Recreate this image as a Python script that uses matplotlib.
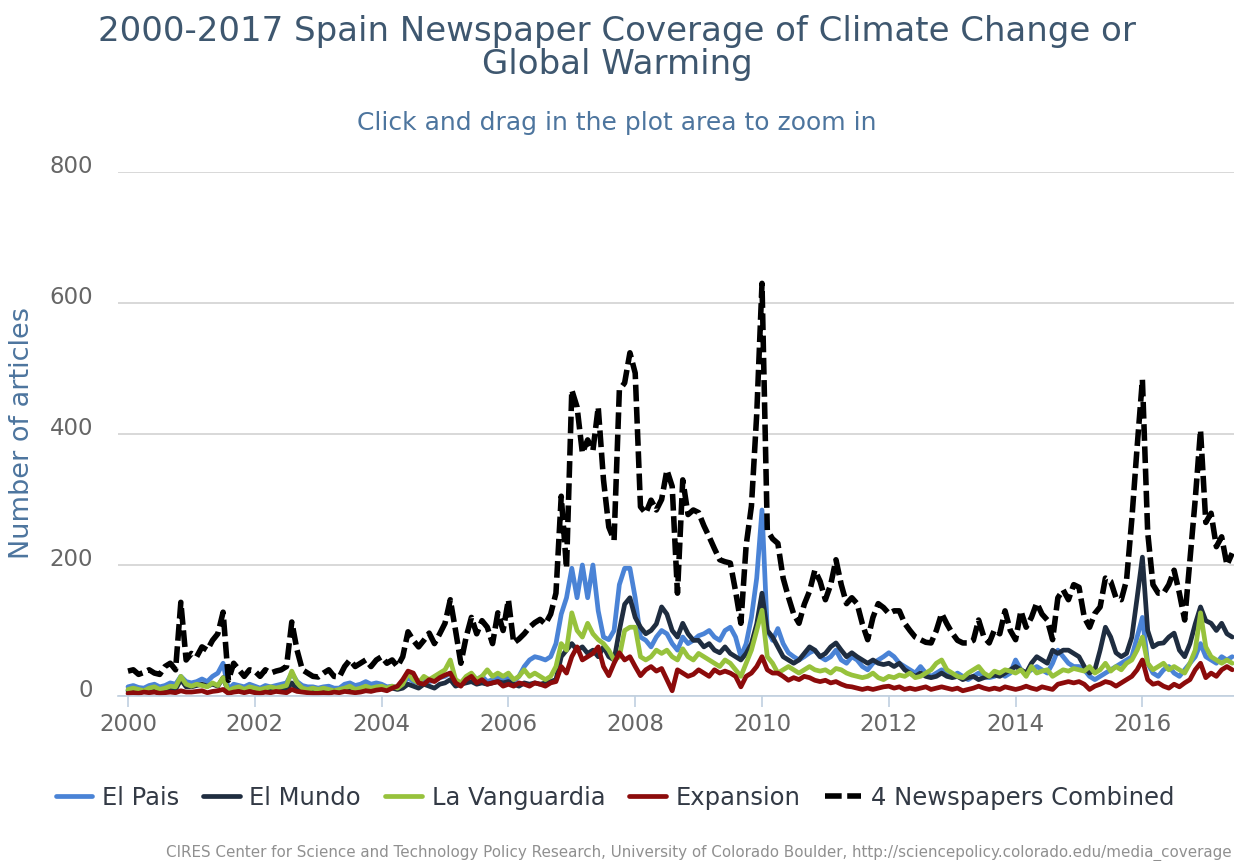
import matplotlib.pyplot as plt
import matplotlib.transforms as mtransforms
import numpy as np

# monthly article counts, Jan 2000 - Jun 2017
el_pais = (
    [14, 16, 13, 12, 16, 18, 14, 16, 20, 18, 30, 22]
    + [20, 22, 26, 22, 30, 35, 50, 10, 18, 16, 14, 18]
    + [15, 12, 16, 14, 16, 18, 20, 35, 22, 16, 14, 14]
    + [12, 14, 15, 12, 12, 18, 20, 16, 18, 22, 18, 20]
    + [18, 14, 15, 12, 18, 28, 22, 20, 25, 22, 24, 28]
    + [30, 35, 25, 18, 28, 32, 25, 30, 22, 25, 28, 25]
    + [28, 22, 30, 45, 55, 60, 58, 55, 60, 80, 125, 150]
    + [195, 150, 200, 150, 200, 130, 90, 86, 100, 170, 195, 195]
    + [150, 90, 85, 75, 90, 100, 95, 80, 70, 90, 80, 85]
    + [92, 95, 100, 90, 85, 100, 105, 90, 60, 80, 120, 180]
    + [284, 100, 85, 103, 80, 66, 60, 55, 60, 66, 70, 60]
    + [55, 60, 70, 55, 50, 60, 55, 45, 40, 50, 55, 60]
    + [66, 60, 50, 45, 40, 35, 45, 35, 30, 35, 40, 35]
    + [30, 35, 30, 25, 30, 35, 30, 28, 30, 35, 30, 35]
    + [55, 40, 35, 40, 45, 40, 35, 50, 70, 60, 50, 45]
    + [45, 40, 30, 25, 30, 35, 40, 45, 50, 55, 60, 90]
    + [120, 50, 35, 30, 40, 45, 35, 30, 40, 50, 60, 80]
    + [60, 55, 50, 60, 55, 60]
)
el_mundo = (
    [8, 10, 7, 8, 10, 8, 7, 10, 12, 10, 25, 14]
    + [14, 16, 18, 15, 18, 15, 28, 7, 10, 10, 8, 10]
    + [8, 7, 8, 10, 8, 10, 10, 20, 10, 8, 8, 7]
    + [7, 8, 7, 8, 7, 10, 8, 7, 10, 10, 8, 12]
    + [12, 10, 12, 10, 12, 18, 15, 12, 18, 15, 12, 18]
    + [20, 25, 15, 18, 20, 22, 18, 20, 18, 20, 22, 20]
    + [22, 18, 15, 20, 18, 20, 18, 20, 22, 25, 60, 70]
    + [80, 70, 75, 65, 70, 60, 75, 60, 55, 100, 140, 150]
    + [120, 105, 95, 100, 110, 136, 125, 100, 90, 111, 95, 85]
    + [85, 75, 80, 70, 66, 75, 65, 60, 55, 65, 80, 110]
    + [157, 100, 90, 75, 60, 55, 50, 55, 65, 75, 70, 60]
    + [65, 75, 81, 70, 60, 66, 60, 55, 50, 55, 50, 48]
    + [50, 45, 50, 40, 35, 30, 35, 30, 28, 30, 35, 30]
    + [28, 30, 25, 28, 30, 25, 28, 30, 32, 30, 35, 40]
    + [45, 40, 35, 50, 60, 55, 50, 70, 65, 70, 70, 65]
    + [60, 45, 35, 40, 70, 105, 90, 66, 60, 65, 90, 150]
    + [212, 100, 75, 80, 81, 90, 96, 70, 60, 80, 110, 136]
    + [115, 111, 100, 111, 95, 90]
)
la_vanguardia = (
    [10, 12, 10, 8, 12, 14, 10, 12, 15, 14, 30, 18]
    + [15, 18, 16, 14, 20, 16, 28, 8, 12, 14, 10, 14]
    + [12, 10, 12, 14, 12, 14, 16, 38, 20, 12, 10, 12]
    + [10, 12, 10, 8, 10, 12, 15, 10, 12, 15, 12, 14]
    + [15, 12, 15, 12, 18, 35, 25, 20, 30, 25, 30, 35]
    + [40, 55, 25, 20, 30, 35, 25, 30, 40, 30, 35, 30]
    + [35, 25, 30, 40, 30, 35, 30, 25, 30, 45, 80, 70]
    + [127, 100, 90, 111, 95, 86, 80, 70, 55, 60, 100, 105]
    + [105, 60, 55, 60, 70, 65, 70, 60, 55, 72, 60, 55]
    + [65, 60, 55, 50, 45, 55, 50, 40, 30, 50, 70, 100]
    + [131, 60, 50, 35, 40, 45, 40, 35, 40, 45, 40, 38]
    + [40, 35, 42, 40, 35, 32, 30, 28, 30, 35, 28, 25]
    + [30, 28, 32, 30, 35, 28, 30, 35, 40, 50, 55, 40]
    + [35, 30, 28, 35, 40, 45, 35, 30, 38, 35, 40, 38]
    + [35, 40, 30, 45, 35, 38, 40, 30, 35, 40, 38, 42]
    + [40, 38, 45, 35, 40, 50, 38, 45, 40, 50, 55, 70]
    + [90, 50, 40, 45, 50, 40, 45, 40, 35, 50, 70, 127]
    + [75, 60, 55, 50, 55, 50]
)
expansion = (
    [4, 5, 4, 6, 5, 6, 4, 5, 6, 5, 8, 6]
    + [6, 7, 8, 5, 7, 8, 10, 4, 6, 7, 5, 7]
    + [5, 4, 6, 5, 7, 6, 5, 10, 7, 6, 5, 4]
    + [4, 5, 4, 6, 5, 7, 6, 5, 6, 8, 7, 9]
    + [10, 8, 12, 15, 25, 38, 35, 20, 18, 25, 22, 28]
    + [32, 35, 20, 15, 25, 30, 20, 25, 18, 20, 22, 15]
    + [18, 15, 20, 18, 15, 20, 18, 15, 20, 22, 45, 35]
    + [60, 75, 55, 60, 65, 75, 45, 31, 50, 66, 55, 60]
    + [45, 31, 40, 45, 38, 42, 25, 8, 40, 35, 30, 33]
    + [40, 35, 30, 40, 35, 38, 35, 30, 14, 30, 35, 45]
    + [60, 40, 35, 35, 30, 24, 28, 25, 30, 28, 24, 22]
    + [24, 20, 22, 18, 15, 14, 12, 10, 12, 10, 12, 14]
    + [15, 12, 14, 10, 12, 10, 12, 14, 10, 12, 14, 12]
    + [10, 12, 8, 10, 12, 15, 12, 10, 12, 10, 14, 12]
    + [10, 12, 15, 12, 10, 14, 12, 10, 18, 20, 22, 20]
    + [22, 18, 10, 15, 18, 22, 20, 15, 20, 25, 30, 40]
    + [55, 25, 18, 20, 15, 12, 18, 14, 20, 25, 40, 50]
    + [28, 35, 30, 40, 45, 40]
)
combined = (
    [38, 40, 33, 36, 40, 35, 33, 45, 50, 40, 143, 55]
    + [65, 60, 75, 70, 85, 95, 128, 24, 50, 40, 30, 40]
    + [38, 30, 40, 35, 38, 40, 45, 113, 70, 40, 35, 30]
    + [29, 35, 40, 30, 29, 45, 55, 45, 50, 55, 45, 55]
    + [60, 50, 55, 45, 60, 98, 85, 75, 85, 96, 80, 95]
    + [111, 147, 100, 50, 90, 120, 95, 115, 105, 80, 127, 100]
    + [147, 81, 87, 95, 105, 112, 117, 110, 125, 157, 305, 195]
    + [467, 441, 371, 391, 375, 441, 330, 258, 238, 467, 478, 524]
    + [493, 289, 279, 299, 284, 300, 345, 320, 157, 330, 277, 284]
    + [280, 260, 243, 225, 208, 205, 203, 160, 111, 230, 290, 430]
    + [630, 253, 240, 233, 180, 151, 125, 111, 140, 160, 192, 175]
    + [147, 170, 208, 170, 141, 150, 141, 110, 86, 120, 141, 135]
    + [126, 130, 130, 111, 100, 90, 86, 82, 81, 100, 126, 110]
    + [96, 85, 81, 81, 85, 116, 90, 81, 101, 95, 130, 100]
    + [86, 130, 105, 120, 142, 125, 116, 86, 150, 162, 147, 170]
    + [166, 120, 105, 126, 136, 180, 175, 150, 147, 177, 270, 380]
    + [483, 250, 170, 157, 157, 170, 192, 157, 116, 208, 300, 406]
    + [265, 279, 228, 243, 200, 218]
)

series_names = ["El Pais", "El Mundo", "La Vanguardia", "Expansion", "4 Newspapers Combined"]
year_ticks = [2000, 2002, 2004, 2006, 2008, 2010, 2012, 2014, 2016]
y_ticks = [0, 200, 400, 600, 800]

months = 2000 + np.arange(len(combined)) / 12.0

fig = plt.figure(figsize=(12.34, 8.61), dpi=100)
ax = fig.add_axes([118 / 1234, 1 - 696 / 861, 1 - 118 / 1234, (696 - 172) / 861])

colors = ["#4a83d6", "#1f2d40", "#97c23c", "#8c0b0b"]
lines = []
for vals, name, c in zip([el_pais, el_mundo, la_vanguardia, expansion], series_names[:4], colors):
    (ln,) = ax.plot(months, vals, color=c, lw=3.4, label=name,
                    solid_joinstyle="round", solid_capstyle="round")
    lines.append(ln)
(ln,) = ax.plot(months, combined, color="black", lw=4.0, ls=(0, (3.0, 1.0)),
                label=series_names[4])
lines.append(ln)

ax.set_xlim(2000 - 10 / 63.4, 2000 + 1106 / 63.4)
ax.set_ylim(0, 800)
ax.set_yticks(y_ticks)
ax.set_xticks(year_ticks)
ax.set_xticklabels([str(y) for y in year_ticks])
ax.grid(axis="y", color="#d5d5d5", lw=1.3)
ax.set_axisbelow(True)
for s in ["top", "right", "left"]:
    ax.spines[s].set_visible(False)
ax.spines["bottom"].set_color("#c0d0e0")
ax.spines["bottom"].set_linewidth(1.2)
ax.tick_params(axis="y", length=0, pad=18, labelsize=16.5, labelcolor="#666666")
ax.tick_params(axis="x", length=8, width=1.2, color="#c0d0e0", pad=4,
               labelsize=16.5, labelcolor="#666666")
offset = mtransforms.ScaledTranslation(0, 6 / 72, fig.dpi_scale_trans)
for lbl in ax.get_yticklabels():
    lbl.set_transform(lbl.get_transform() + offset)

fig.text(22 / 1234, 1 - 433 / 861, "Number of articles", rotation=90, ha="center",
         va="center", fontsize=19.5, color="#4d759e")

fig.text(0.5, 1 - 48 / 861, "2000-2017 Spain Newspaper Coverage of Climate Change or\nGlobal Warming",
         ha="center", va="center", fontsize=24.5, color="#3e576f", linespacing=1.0)
fig.text(0.5, 1 - 123 / 861, "Click and drag in the plot area to zoom in", ha="center",
         va="center", fontsize=18, color="#4d759e")

fig.legend(handles=lines, loc="center", bbox_to_anchor=(615 / 1234, 1 - 798 / 861), ncol=5,
           frameon=False, fontsize=17.5, handlelength=1.5, handletextpad=0.4,
           columnspacing=1.0, labelcolor="#333a45")

fig.text(1232 / 1234, 1 - 853 / 861,
         "CIRES Center for Science and Technology Policy Research, University of Colorado Boulder, "
         "http://sciencepolicy.colorado.edu/media_coverage",
         ha="right", va="center", fontsize=10.9, color="#909090")

fig.savefig("out.png", dpi=100)
